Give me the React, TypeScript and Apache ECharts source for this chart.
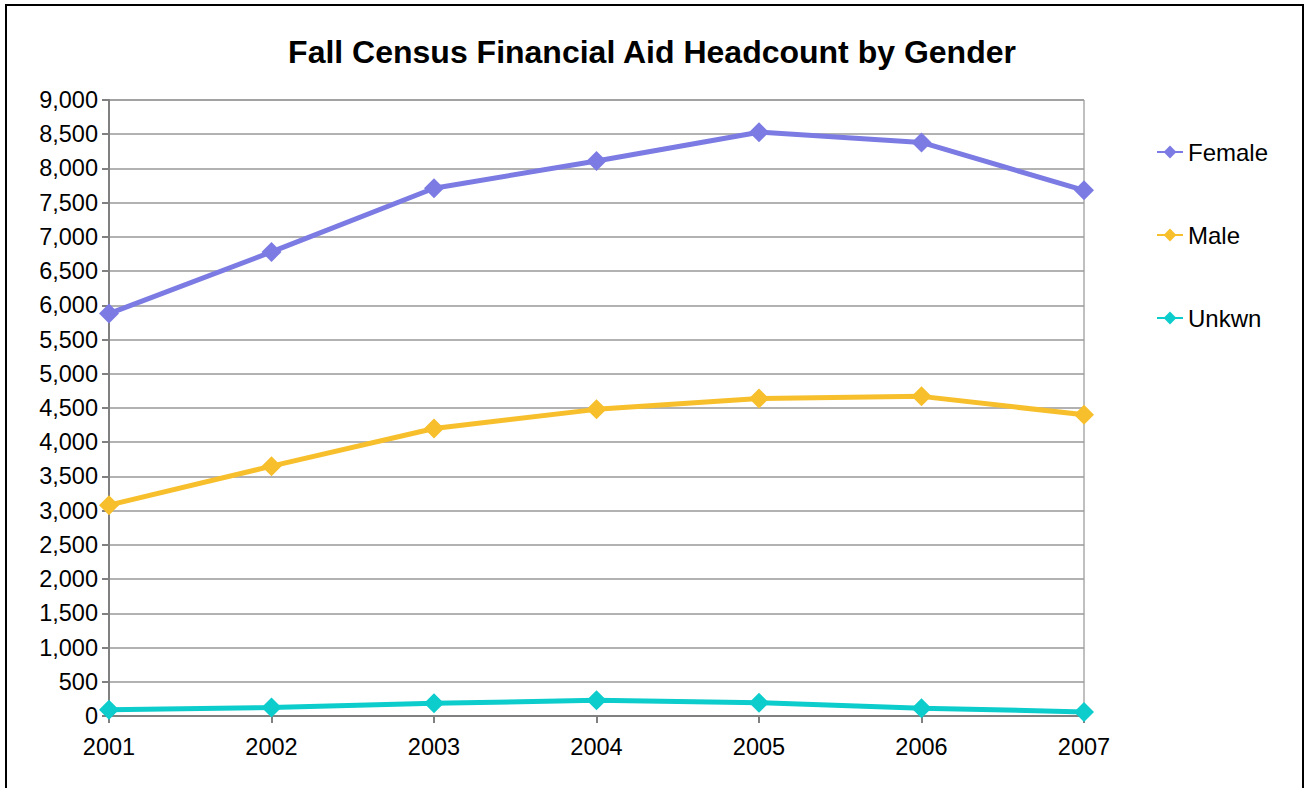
import React, { useEffect, useRef } from "react";
import * as echarts from "echarts";

const years = ["2001", "2002", "2003", "2004", "2005", "2006", "2007"];
const female = [5880, 6780, 7710, 8110, 8530, 8380, 7680];
const male = [3080, 3650, 4200, 4480, 4640, 4670, 4400];
const unknown = [90, 125, 185, 230, 195, 115, 60];

const seriesNames = ["Female", "Male", "Unkwn"];
const seriesColors = ["#7b7be3", "#f7bf2b", "#0ccccc"];

export default function App() {
  const ref = useRef<HTMLDivElement>(null);
  useEffect(() => {
    if (!ref.current) return;
    const chart = echarts.init(ref.current, null, { renderer: "svg" });
    const font = "'Liberation Sans', Arial, sans-serif";
    const data = [female, male, unknown];
    chart.setOption({
      animation: false,
      backgroundColor: "#ffffff",
      title: {
        text: "Fall Census Financial Aid Headcount by Gender",
        left: "center",
        top: 31,
        textStyle: { fontFamily: font, fontSize: 32, fontWeight: "bold", color: "#000" },
      },
      graphic: [
        {
          type: "rect",
          shape: { x: 6, y: 5, width: 1297, height: 820 },
          style: { fill: "none", stroke: "#000", lineWidth: 2 },
          silent: true,
        },
      ],
      legend: {
        orient: "vertical",
        left: 1151,
        top: 135,
        itemWidth: 26,
        itemHeight: 16,
        itemGap: 59,
        textStyle: { fontFamily: font, fontSize: 24, color: "#000", lineHeight: 24 },
        data: seriesNames,
      },
      grid: {
        left: 109,
        right: 220,
        top: 100,
        bottom: 72,
        show: true,
        borderColor: "#808080",
        borderWidth: 1,
      },
      xAxis: {
        type: "category",
        data: years,
        boundaryGap: false,
        axisLine: { lineStyle: { color: "#808080", width: 2 } },
        axisTick: { show: true, length: 7, lineStyle: { color: "#808080", width: 2 } },
        axisLabel: { fontFamily: font, fontSize: 23.5, color: "#000", margin: 19 },
      },
      yAxis: {
        type: "value",
        min: 0,
        max: 9000,
        interval: 500,
        axisLine: { show: true, lineStyle: { color: "#808080", width: 2 } },
        axisTick: { show: true, length: 7, lineStyle: { color: "#808080", width: 2 } },
        axisLabel: {
          fontFamily: font,
          fontSize: 23.5,
          color: "#000",
          margin: 11,
          formatter: (v: number) => v.toLocaleString("en-US"),
        },
        splitLine: { lineStyle: { color: "#999999", width: 1.5 } },
      },
      series: seriesNames.map((name, i) => ({
        name,
        type: "line",
        data: data[i],
        symbol: "diamond",
        symbolSize: 20,
        itemStyle: { color: seriesColors[i] },
        lineStyle: { color: seriesColors[i], width: 5 },
      })),
    });
    return () => chart.dispose();
  }, []);
  return (
    <div
      ref={ref}
      style={{ position: "fixed", left: 0, top: 0, width: 1304, height: 788 }}
    />
  );
}
